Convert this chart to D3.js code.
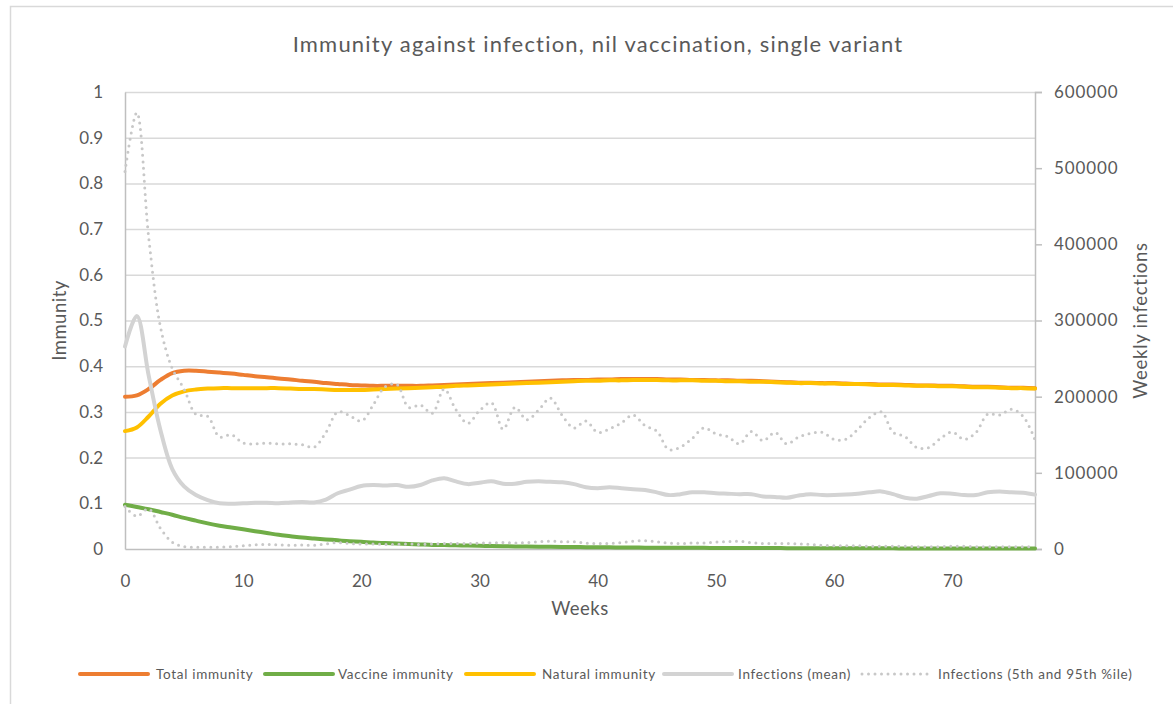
<!DOCTYPE html>
<html>
<head>
<meta charset="utf-8">
<script src="https://cdn.jsdelivr.net/npm/d3@7"></script>
<style>
  body { margin: 0; background: #fff; }
  svg { display: block; font-family: Lato, "Open Sans", sans-serif; }
</style>
</head>
<body>
<svg id="chart" width="1173" height="704"></svg>
<script>
// Immunity against infection, nil vaccination, single variant

const weeks = [0, 1, 2, 3, 4, 5, 6, 7, 8, 9, 10, 11, 12, 13, 14, 15, 16, 17, 18, 19,
    20, 21, 22, 23, 24, 25, 26, 27, 28, 29, 30, 31, 32, 33, 34, 35, 36, 37, 38, 39,
    40, 41, 42, 43, 44, 45, 46, 47, 48, 49, 50, 51, 52, 53, 54, 55, 56, 57, 58, 59,
    60, 61, 62, 63, 64, 65, 66, 67, 68, 69, 70, 71, 72, 73, 74, 75, 76, 77];

const totalImmunity = [0.333, 0.336, 0.350, 0.370, 0.385, 0.390, 0.390, 0.388, 0.386, 0.384,
    0.381, 0.378, 0.376, 0.373, 0.371, 0.368, 0.366, 0.363, 0.361, 0.359,
    0.358, 0.357, 0.357, 0.357, 0.357, 0.357, 0.358, 0.359, 0.360, 0.361,
    0.362, 0.363, 0.364, 0.365, 0.366, 0.367, 0.368, 0.369, 0.370, 0.370,
    0.371, 0.371, 0.372, 0.372, 0.372, 0.372, 0.371, 0.371, 0.370, 0.370,
    0.369, 0.369, 0.368, 0.368, 0.367, 0.366, 0.365, 0.364, 0.364, 0.363,
    0.363, 0.362, 0.361, 0.361, 0.360, 0.360, 0.359, 0.358, 0.358, 0.357,
    0.357, 0.356, 0.355, 0.355, 0.354, 0.353, 0.353, 0.352];

const vaccineImmunity = [0.097, 0.092, 0.087, 0.081, 0.075, 0.068, 0.062, 0.056, 0.051, 0.047,
    0.043, 0.039, 0.035, 0.031, 0.028, 0.025, 0.023, 0.021, 0.019, 0.017,
    0.016, 0.014, 0.013, 0.012, 0.011, 0.010, 0.009, 0.0085, 0.008, 0.0075,
    0.007, 0.0065, 0.006, 0.0057, 0.0054, 0.005, 0.0048, 0.0045, 0.0043, 0.004,
    0.0038, 0.0036, 0.0034, 0.0032, 0.003, 0.0029, 0.0028, 0.0027, 0.0026, 0.0025,
    0.0024, 0.0023, 0.0022, 0.0021, 0.002, 0.002, 0.0019, 0.0018, 0.0018, 0.0017,
    0.0016, 0.0016, 0.0015, 0.0015, 0.0014, 0.0014, 0.0013, 0.0013, 0.0012, 0.0012,
    0.0012, 0.0011, 0.0011, 0.0011, 0.001, 0.001, 0.001, 0.001];

const naturalImmunity = [0.258, 0.266, 0.290, 0.318, 0.336, 0.345, 0.349, 0.351, 0.352, 0.352,
    0.352, 0.352, 0.352, 0.352, 0.351, 0.350, 0.350, 0.349, 0.348, 0.348,
    0.348, 0.349, 0.350, 0.351, 0.352, 0.353, 0.354, 0.355, 0.357, 0.358,
    0.359, 0.360, 0.361, 0.362, 0.363, 0.364, 0.365, 0.366, 0.367, 0.368,
    0.368, 0.369, 0.369, 0.370, 0.370, 0.370, 0.369, 0.369, 0.369, 0.368,
    0.368, 0.367, 0.367, 0.366, 0.366, 0.365, 0.364, 0.363, 0.363, 0.362,
    0.362, 0.361, 0.361, 0.360, 0.359, 0.359, 0.358, 0.357, 0.357, 0.356,
    0.356, 0.355, 0.354, 0.354, 0.353, 0.352, 0.352, 0.351];

const infectionsMean = [265800, 306000, 228000, 156000, 105000, 82200, 70800, 64200, 60000, 59400,
    60000, 60600, 60600, 60000, 61200, 61800, 61200, 64800, 73200, 78000,
    82800, 84000, 83400, 84000, 81600, 84000, 90000, 93000, 88800, 85200,
    87000, 88800, 85800, 85800, 88200, 88800, 88200, 87600, 85200, 81000,
    79800, 81000, 79800, 78600, 77400, 74400, 70800, 72000, 74400, 74400,
    73200, 72600, 72000, 72000, 69000, 68400, 67200, 70200, 72000, 70800,
    70800, 71400, 72600, 74400, 75600, 72000, 67200, 66000, 69600, 73200,
    72600, 70800, 70800, 74400, 75600, 74400, 73800, 71400];

const infections95 = [495600, 573000, 409800, 291600, 237000, 210000, 177000, 174000, 147000, 150000,
    139200, 138000, 139200, 138000, 138000, 136800, 133800, 153000, 180000, 175200,
    168000, 189000, 213000, 216000, 186000, 189000, 178200, 210000, 183000, 165000,
    181800, 192000, 157200, 186000, 169800, 182400, 198000, 175200, 159000, 168000,
    153000, 157800, 165600, 175800, 162000, 154800, 130800, 133800, 145200, 159000,
    151200, 147600, 138000, 154200, 142200, 153000, 138000, 147000, 151800, 153000,
    144000, 144000, 157200, 172800, 180000, 153000, 147600, 133200, 133200, 145200,
    153600, 144000, 153000, 177000, 175800, 183600, 174000, 143400];

const infections5 = [55800, 43200, 52800, 27000, 9000, 3000, 2400, 2400, 2400, 3000,
    4200, 5400, 6000, 5400, 4800, 5400, 4800, 6600, 8400, 7200,
    6600, 6600, 6000, 6000, 6600, 6000, 6600, 7200, 7200, 7200,
    7800, 7800, 8400, 7800, 8400, 9600, 10200, 9600, 9600, 7800,
    7200, 7200, 8400, 10200, 10800, 9600, 7800, 7200, 7800, 7800,
    9000, 9600, 10200, 8400, 7200, 7200, 7200, 6600, 6000, 4800,
    4200, 4200, 4200, 3600, 3600, 3600, 3600, 3000, 3000, 3000,
    3600, 3600, 3000, 3000, 3000, 3000, 3000, 3000];

const leftTicks = [0, 0.1, 0.2, 0.3, 0.4, 0.5, 0.6, 0.7, 0.8, 0.9, 1];
const rightTicks = [0, 100000, 200000, 300000, 400000, 500000, 600000];
const xTicks = [0, 10, 20, 30, 40, 50, 60, 70];

const TITLE = 'Immunity against infection, nil vaccination, single variant';
const TEXT = '#595959';

(function () {
    const svg = d3.select('#chart');
    const plot = { left: 125, top: 92, right: 1035, bottom: 549 };

    // chart border
    svg.append('rect')
        .attr('x', 10.5).attr('y', 6.5)
        .attr('width', 1200).attr('height', 720)
        .attr('fill', 'none')
        .attr('stroke', '#d9d9d9')
        .attr('stroke-width', 1.5);

    const x = d3.scaleLinear().domain([0, 77]).range([plot.left, plot.right]);
    const yL = d3.scaleLinear().domain([0, 1]).range([plot.bottom, plot.top]);
    const yR = d3.scaleLinear().domain([0, 600000]).range([plot.bottom, plot.top]);

    // gridlines
    svg.append('g')
        .attr('transform', `translate(${plot.left},0)`)
        .call(d3.axisLeft(yL).tickValues(leftTicks.slice(1))
            .tickSize(-(plot.right - plot.left)).tickFormat(''))
        .call(g => g.select('.domain').remove())
        .call(g => g.selectAll('line').attr('stroke', '#d9d9d9').attr('stroke-width', 1.5));

    // left axis labels
    svg.append('g')
        .attr('transform', `translate(${plot.left},0)`)
        .call(d3.axisLeft(yL).tickValues(leftTicks).tickSize(0).tickPadding(22)
            .tickFormat(d => d3.format('')(d)))
        .call(g => g.select('.domain').attr('stroke', '#bfbfbf').attr('stroke-width', 1.5))
        .call(g => g.selectAll('text').attr('fill', TEXT).attr('font-size', 17)
            .attr('font-family', 'Lato, sans-serif'));

    // right axis
    svg.append('g')
        .attr('transform', `translate(${plot.right},0)`)
        .call(d3.axisRight(yR).tickValues(rightTicks).tickSize(7).tickPadding(12)
            .tickFormat(d3.format('d')))
        .call(g => g.select('.domain').attr('stroke', '#bfbfbf').attr('stroke-width', 1.5))
        .call(g => g.selectAll('line').attr('stroke', '#bfbfbf').attr('stroke-width', 1.5))
        .call(g => g.selectAll('text').attr('fill', TEXT).attr('font-size', 17)
            .attr('letter-spacing', 0.9)
            .attr('font-family', 'Lato, sans-serif'));

    // bottom axis
    svg.append('g')
        .attr('transform', `translate(0,${plot.bottom})`)
        .call(d3.axisBottom(x).tickValues(xTicks).tickSize(0).tickPadding(26))
        .call(g => g.select('.domain').attr('stroke', '#bfbfbf').attr('stroke-width', 1.5))
        .call(g => g.selectAll('text').attr('fill', TEXT).attr('font-size', 17)
            .attr('font-family', 'Lato, sans-serif'));

    // titles
    svg.append('text')
        .attr('x', 598).attr('y', 52)
        .attr('text-anchor', 'middle')
        .attr('fill', TEXT).attr('font-size', 22)
        .attr('letter-spacing', 1.2)
        .text(TITLE);

    svg.append('text')
        .attr('x', 580).attr('y', 615)
        .attr('text-anchor', 'middle')
        .attr('fill', TEXT).attr('font-size', 18.5)
        .attr('letter-spacing', 0.5)
        .text('Weeks');

    svg.append('text')
        .attr('transform', `translate(66,${(plot.top + plot.bottom) / 2}) rotate(-90)`)
        .attr('text-anchor', 'middle')
        .attr('fill', TEXT).attr('font-size', 18.5)
        .attr('letter-spacing', 0.5)
        .text('Immunity');

    svg.append('text')
        .attr('transform', `translate(1147,${(plot.top + plot.bottom) / 2}) rotate(-90)`)
        .attr('text-anchor', 'middle')
        .attr('fill', TEXT).attr('font-size', 18.5)
        .attr('letter-spacing', 0.7)
        .text('Weekly infections');

    // series
    const lineL = d3.line().x((d, i) => x(weeks[i])).y(d => yL(d)).curve(d3.curveCatmullRom.alpha(0.5));
    const lineR = d3.line().x((d, i) => x(weeks[i])).y(d => yR(d)).curve(d3.curveCatmullRom.alpha(0.5));

    const series = [
        { name: 'Total immunity', values: totalImmunity, gen: lineL, color: '#ed7d31', width: 4, dash: null },
        { name: 'Vaccine immunity', values: vaccineImmunity, gen: lineL, color: '#70ad47', width: 4, dash: null },
        { name: 'Natural immunity', values: naturalImmunity, gen: lineL, color: '#ffc000', width: 4, dash: null },
        { name: 'Infections (mean)', values: infectionsMean, gen: lineR, color: '#d3d3d3', width: 4, dash: null },
        { name: 'Infections (5th and 95th %ile)', values: infections95, gen: lineR, color: '#c8c8c8', width: 3, dash: '0 6.5' },
        { name: null, values: infections5, gen: lineR, color: '#c8c8c8', width: 3, dash: '0 6.5' }
    ];

    const g = svg.append('g').attr('class', 'series');
    series.forEach(s => {
        g.append('path')
            .datum(s.values)
            .attr('d', s.gen)
            .attr('fill', 'none')
            .attr('stroke', s.color)
            .attr('stroke-width', s.width)
            .attr('stroke-linecap', 'round')
            .attr('stroke-linejoin', 'round')
            .attr('stroke-dasharray', s.dash);
    });

    // legend
    const legendY = 674;
    const legendItems = [
        { s: series[0], x0: 79, tx: 156 },
        { s: series[1], x0: 264, tx: 338 },
        { s: series[2], x0: 465, tx: 542 },
        { s: series[3], x0: 663, tx: 738 },
        { s: series[4], x0: 861, tx: 938 }
    ];
    const lg = svg.append('g').attr('class', 'legend');
    legendItems.forEach(it => {
        lg.append('line')
            .attr('x1', it.x0 + 1).attr('x2', it.x0 + 69)
            .attr('y1', legendY).attr('y2', legendY)
            .attr('stroke', it.s.color)
            .attr('stroke-width', it.s.width)
            .attr('stroke-linecap', 'round')
            .attr('stroke-dasharray', it.s.dash);
        lg.append('text')
            .attr('x', it.tx).attr('y', legendY + 5)
            .attr('fill', TEXT).attr('font-size', 13.5)
            .attr('letter-spacing', 0.7)
            .text(it.s.name);
    });
})();
</script>
</body>
</html>
